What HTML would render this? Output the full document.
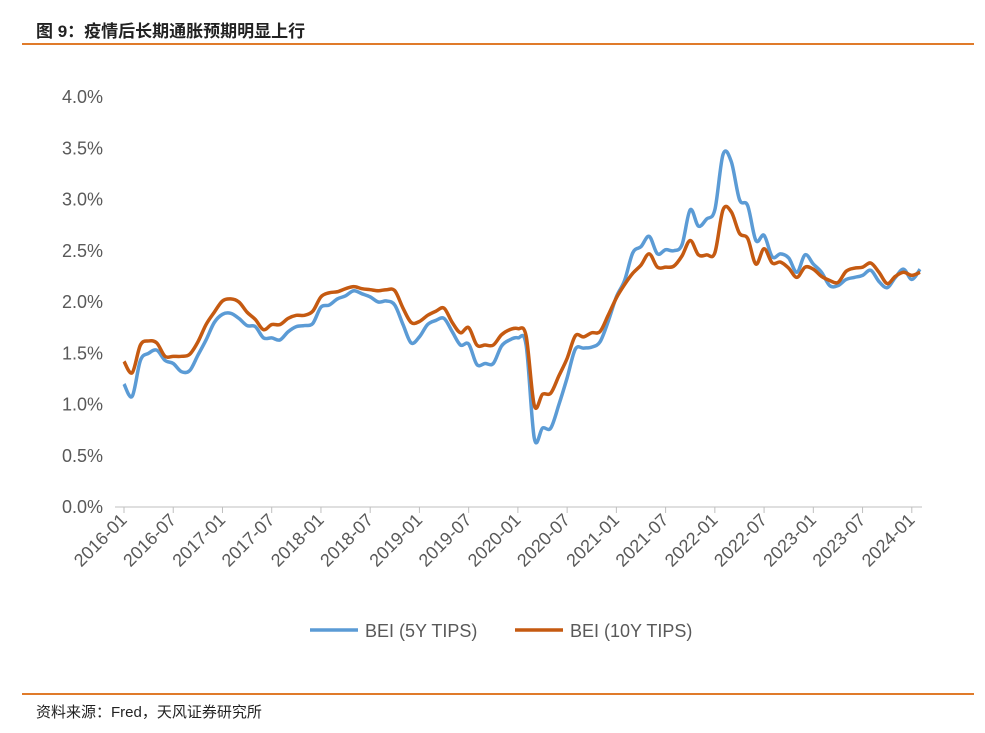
<!DOCTYPE html>
<html><head><meta charset="utf-8"><style>
body{margin:0;background:#fff;width:985px;height:733px;overflow:hidden;font-family:"Liberation Sans","Noto Sans CJK SC",sans-serif}
</style></head><body>
<div style="position:absolute;left:36px;top:17px;font-size:17px;font-weight:bold;color:#222">图 9：疫情后长期通胀预期明显上行</div>
<div style="position:absolute;left:22px;top:43px;width:952px;height:2px;background:#e07b2a"></div>
<div style="position:absolute;left:22px;top:693px;width:952px;height:2px;background:#e07b2a"></div>
<div style="position:absolute;left:36px;top:701px;font-size:15px;color:#222">资料来源：Fred，天风证券研究所</div>
<svg id="chart" width="985" height="733" style="position:absolute;left:0;top:0"></svg>
<script>
const startYear = 2016;
const yTicks = [0,0.5,1.0,1.5,2.0,2.5,3.0,3.5,4.0];
const xTickLabels = ["2016-01","2016-07","2017-01","2017-07","2018-01","2018-07","2019-01","2019-07","2020-01","2020-07","2021-01","2021-07","2022-01","2022-07","2023-01","2023-07","2024-01"];
const bei5 = [1.20,1.08,1.43,1.50,1.53,1.43,1.40,1.32,1.33,1.48,1.63,1.80,1.88,1.89,1.84,1.77,1.76,1.65,1.65,1.63,1.71,1.76,1.77,1.79,1.95,1.97,2.03,2.06,2.11,2.08,2.05,2.00,2.01,1.97,1.78,1.60,1.66,1.78,1.82,1.84,1.71,1.58,1.59,1.39,1.40,1.40,1.57,1.63,1.65,1.58,0.67,0.77,0.77,1.00,1.26,1.54,1.55,1.56,1.61,1.81,2.05,2.21,2.48,2.54,2.64,2.47,2.51,2.50,2.56,2.90,2.74,2.81,2.90,3.44,3.37,3.00,2.94,2.60,2.65,2.44,2.47,2.43,2.29,2.46,2.37,2.29,2.16,2.16,2.22,2.24,2.26,2.31,2.20,2.14,2.24,2.32,2.22,2.32];
const bei10 = [1.42,1.31,1.58,1.62,1.60,1.47,1.47,1.47,1.49,1.61,1.78,1.90,2.01,2.03,2.00,1.90,1.83,1.73,1.78,1.78,1.84,1.87,1.87,1.91,2.05,2.09,2.10,2.13,2.15,2.13,2.12,2.11,2.12,2.11,1.94,1.80,1.81,1.87,1.91,1.94,1.80,1.70,1.75,1.58,1.58,1.58,1.68,1.73,1.74,1.67,0.99,1.10,1.11,1.28,1.45,1.67,1.66,1.70,1.71,1.87,2.04,2.17,2.28,2.36,2.47,2.34,2.34,2.35,2.45,2.60,2.46,2.46,2.48,2.90,2.88,2.67,2.62,2.37,2.52,2.38,2.39,2.33,2.24,2.34,2.32,2.25,2.21,2.19,2.30,2.33,2.34,2.38,2.29,2.18,2.25,2.29,2.26,2.29];
const NS="http://www.w3.org/2000/svg";
const svg=document.getElementById('chart');
const x0=124, xEnd=920, y0=507, pxPerPct=102.5;
const n=bei5.length;
function xScale(i){return x0+i*(xEnd-x0)/(n-1);}
function yScale(v){return y0-v*pxPerPct;}
function xMonth(m){return x0+m*(xEnd-x0)/(n-1);}
function mk(tag,attrs){const e=document.createElementNS(NS,tag);for(const k in attrs)e.setAttribute(k,attrs[k]);svg.appendChild(e);return e;}
yTicks.forEach(v=>{
  const t=mk('text',{x:103,y:yScale(v)+6,'text-anchor':'end','font-size':'18','fill':'#595959','font-family':'Liberation Sans, sans-serif'});
  
  
  t.textContent=v.toFixed(1)+'%';
});
const ax=mk('line',{x1:115,x2:922,y1:y0,y2:y0,stroke:'#bfbfbf','stroke-width':1});


xTickLabels.forEach((lab,k)=>{
  const x=xMonth(k*6);
  const tk=mk('line',{x1:x,x2:x,y1:y0,y2:y0+6,stroke:'#bfbfbf','stroke-width':1});
  
  
  const t=mk('text',{x:x+4,y:y0+14,'text-anchor':'end','font-size':'18','fill':'#595959','font-family':'Liberation Sans, sans-serif',transform:`rotate(-45 ${x+4} ${y0+14})`});
  
  
  t.textContent=lab;
});
function path(vals){
  const p=vals.map((v,i)=>[xScale(i),yScale(v)]);
  let d=`M${p[0][0]},${p[0][1]}`;
  for(let i=0;i<p.length-1;i++){
    const a=p[Math.max(0,i-1)],b=p[i],c=p[i+1],e=p[Math.min(p.length-1,i+2)];
    const c1=[b[0]+(c[0]-a[0])/6,b[1]+(c[1]-a[1])/6],c2=[c[0]-(e[0]-b[0])/6,c[1]-(e[1]-b[1])/6];
    d+=` C${c1[0]},${c1[1]} ${c2[0]},${c2[1]} ${c[0]},${c[1]}`;
  }
  return d;
}
const l1=mk('path',{d:path(bei5),fill:'none',stroke:'#5b9bd5','stroke-width':3.5,'stroke-linejoin':'round'});


const l2=mk('path',{d:path(bei10),fill:'none',stroke:'#c55a11','stroke-width':3.5,'stroke-linejoin':'round'});


[[310,'#5b9bd5','BEI (5Y TIPS)','legend-entry-5y'],[515,'#c55a11','BEI (10Y TIPS)','legend-entry-10y']].forEach(([x,c,lab,nm])=>{
  const g=document.createElementNS(NS,'g');svg.appendChild(g);
  
  
  const ln=document.createElementNS(NS,'line');
  ln.setAttribute('x1',x);ln.setAttribute('x2',x+48);ln.setAttribute('y1',630);ln.setAttribute('y2',630);
  ln.setAttribute('stroke',c);ln.setAttribute('stroke-width',3.5);g.appendChild(ln);
  const t=document.createElementNS(NS,'text');
  t.setAttribute('x',x+55);t.setAttribute('y',637);t.setAttribute('font-size','18');t.setAttribute('fill','#595959');
  t.setAttribute('font-family','Liberation Sans, sans-serif');t.textContent=lab;g.appendChild(t);
});
</script>
</body></html>
